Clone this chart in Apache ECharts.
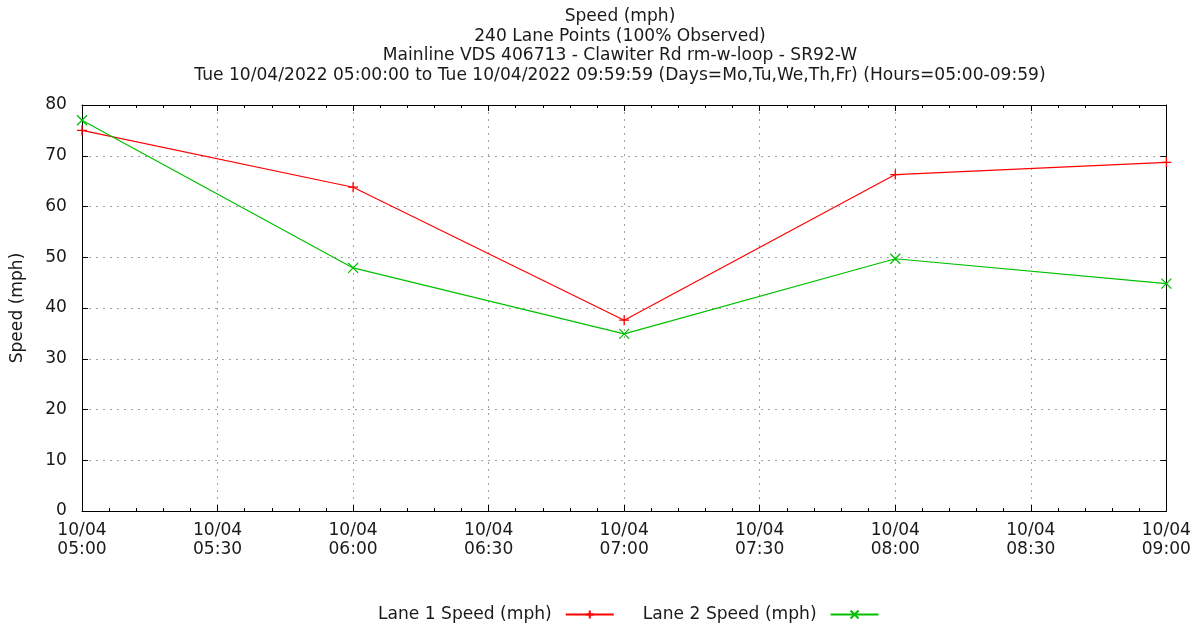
<!DOCTYPE html>
<html>
<head>
<meta charset="utf-8">
<script src="https://cdn.jsdelivr.net/npm/echarts@6/dist/echarts.min.js"></script>
<style>
html,body{margin:0;padding:0;background:#fff;}
#c{width:1194px;height:626px;}
</style>
</head>
<body>
<div id="c"></div>
<script>
const titleLines = [
  "Speed (mph)",
  "240 Lane Points (100% Observed)",
  "Mainline VDS 406713 - Clawiter Rd rm-w-loop - SR92-W",
  "Tue 10/04/2022 05:00:00 to Tue 10/04/2022 09:59:59 (Days=Mo,Tu,We,Th,Fr) (Hours=05:00-09:59)"
];
const dateLabel = "10/04";
const times = ["05:00", "06:00", "07:00", "08:00", "09:00"];
const lane1 = [75.0, 63.8, 37.6, 66.3, 68.7];
const lane2 = [77.0, 47.9, 34.9, 49.7, 44.8];
const seriesNames = ["Lane 1 Speed (mph)", "Lane 2 Speed (mph)"];
const yAxisName = "Speed (mph)";

const FONT = "DejaVu Sans";
const FS = 17.1;
const TXT = "#1a1a1a";
const startMin = 5 * 60;
function toMin(t){ const p = t.split(":"); return (+p[0]) * 60 + (+p[1]) - startMin; }
function fmtX(v){
  const m = startMin + v;
  const h = Math.floor(m / 60), mm = m % 60;
  return dateLabel + "\n" + String(h).padStart(2, "0") + ":" + String(mm).padStart(2, "0");
}
const d1 = times.map((t, i) => [toMin(t), lane1[i]]);
const d2 = times.map((t, i) => [toMin(t), lane2[i]]);

const plusPath = "path://M0,5L10,5M5,0L5,10";
const crossPath = "path://M0,0L10,10M10,0L0,10";

const chart = echarts.init(document.getElementById("c"), null, {renderer: "canvas"});
const gridLine = {show: true, lineStyle: {color: "#a0a0a0", type: [2, 5], width: 1}};
const baseX = {
  type: "value", min: 0, max: 240, interval: 30,
  axisLine: {show: true, onZero: false, lineStyle: {color: "#000", width: 1}},
  axisTick: {show: true, inside: true, length: 6, lineStyle: {color: "#000"}},
  minorTick: {show: true, splitNumber: 5, length: 3, lineStyle: {color: "#000"}}
};
const baseY = {
  type: "value", min: 0, max: 80, interval: 10,
  axisLine: {show: true, onZero: false, lineStyle: {color: "#000", width: 1}},
  axisTick: {show: true, inside: true, length: 6, lineStyle: {color: "#000"}}
};
chart.setOption({
  animation: false,
  backgroundColor: "#fff",
  textStyle: {fontFamily: FONT},
  title: {
    text: titleLines.join("\n"),
    left: 615, top: 2,
    textAlign: "center",
    textStyle: {fontFamily: FONT, fontSize: FS, fontWeight: "normal", color: TXT, lineHeight: 19.5}
  },
  grid: {left: 82, right: 27, top: 105, bottom: 115, containLabel: false},
  legend: {
    bottom: -2, left: 373,
    align: "right",
    itemWidth: 48, itemHeight: 10, itemGap: 28,
    textStyle: {fontFamily: FONT, fontSize: FS, color: TXT, padding: [0, 9, 0, 0]},
    data: seriesNames
  },
  xAxis: [
    Object.assign({}, baseX, {
      position: "bottom",
      splitLine: gridLine,
      axisLabel: {formatter: fmtX, fontFamily: FONT, fontSize: FS, color: TXT, lineHeight: 19, margin: 10, showMinLabel: true, showMaxLabel: true}
    }),
    Object.assign({}, baseX, {position: "top", splitLine: {show: false}, axisLabel: {show: false}})
  ],
  yAxis: [
    Object.assign({}, baseY, {
      position: "left",
      splitLine: gridLine,
      name: yAxisName, nameLocation: "middle", nameGap: 56, nameRotate: 90,
      nameTextStyle: {fontFamily: FONT, fontSize: FS, color: TXT},
      axisLabel: {fontFamily: FONT, fontSize: FS, color: TXT, margin: 15}
    }),
    Object.assign({}, baseY, {position: "right", splitLine: {show: false}, axisLabel: {show: false}})
  ],
  series: [
    {
      name: seriesNames[0], type: "line", data: d1,
      symbol: plusPath, symbolSize: 10, showAllSymbol: true,
      lineStyle: {color: "#ff0000", width: 1.2},
      itemStyle: {color: "#ff0000", borderColor: "#ff0000", borderWidth: 1.3}
    },
    {
      name: seriesNames[1], type: "line", data: d2,
      symbol: crossPath, symbolSize: 10, showAllSymbol: true,
      lineStyle: {color: "#00c000", width: 1.2},
      itemStyle: {color: "#00c000", borderColor: "#00c000", borderWidth: 1.3}
    }
  ]
});
</script>
</body>
</html>
